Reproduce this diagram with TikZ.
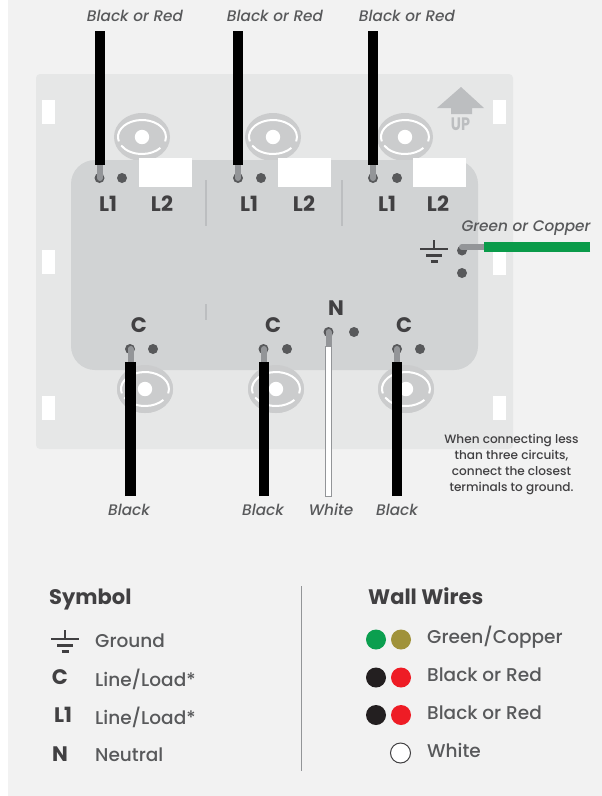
\documentclass[tikz,border=0pt]{standalone}
\usepackage{fontspec}
\setmainfont{Poppins}
\newfontfamily\mediumfont[ItalicFont={Poppins Medium Italic}]{Poppins Medium}
\usetikzlibrary{positioning}
\definecolor{pagegray}{HTML}{F2F2F2}
\definecolor{plategray}{HTML}{E6E7E7}
\definecolor{bodygray}{HTML}{D1D3D4}
\definecolor{eyegray}{HTML}{CBCCCD}
\definecolor{inkgray}{HTML}{414042}
\definecolor{textgray}{HTML}{58595B}
\definecolor{pingray}{HTML}{58595B}
\definecolor{stubgray}{HTML}{939598}
\definecolor{upgray}{HTML}{BCBEC0}
\definecolor{wiregreen}{HTML}{0A9B4A}
\definecolor{dotgreen}{HTML}{0B9F4F}
\definecolor{dotcopper}{HTML}{A0923A}
\definecolor{dotblack}{HTML}{231F20}
\definecolor{dotred}{HTML}{EE1C25}
\tikzset{pin/.style = {fill=pingray, circle, inner sep = 0, minimum size = 10}}
\tikzset{wire/.style = {line width = 10.5, black}}
\tikzset{stub/.style = {line width = 6, stubgray, line cap = round}}
\tikzset{whitewire/.style = {draw=stubgray, fill=white, line width = 0.8}}
\tikzset{wirelabel/.style = {font=\mediumfont\itshape\fontsize{15.3}{15.3}\selectfont, text=textgray, inner sep = 0}}
\tikzset{termlabel/.style = {font=\bfseries\fontsize{21}{21}\selectfont, text=inkgray, inner sep = 0}}
\tikzset{headlabel/.style = {font=\bfseries\fontsize{21}{21}\selectfont, text=inkgray, inner sep = 0, anchor=base west}}
\tikzset{keylabel/.style = {font=\mediumfont\fontsize{18.5}{18.5}\selectfont, text=textgray, inner sep = 0, anchor=west}}
\tikzset{keydot/.style = {circle, inner sep = 0, minimum size = 20}}
\newcommand{\screweye}[1]{
  \fill [eyegray] (#1) ellipse (28 and 24);
  \draw [white, line width = 2] (#1) ++(165:24 and 17) arc (165:375:24 and 17);
  \draw [white, line width = 2] (#1) ++(150:24 and 17) arc (150:40:24 and 17);
  \fill [white] (#1) circle (7.2);
}
\newcommand{\groundsym}[1]{
  \draw [inkgray, line width = 2] (#1) ++(0, -9) -- ++(0, 9);
  \draw [inkgray, line width = 2.5] (#1) ++(-14, 0) -- ++(28, 0);
  \draw [inkgray, line width = 2.5] (#1) ++(-8, 6.5) -- ++(16, 0);
  \draw [inkgray, line width = 3] (#1) ++(-3.5, 12.5) -- ++(7, 0);
}
\begin{document}
\begin{tikzpicture}[x=1pt, y=-1pt]
  \useasboundingbox (0, 0) rectangle (602, 796);
  \fill [white] (0, 0) rectangle (602, 796);
  \fill [pagegray] (8, 0) rectangle (602, 796);
  % plate
  \fill [plategray, rounded corners = 4] (36, 74) rectangle (513, 449);
  \foreach \x/\y in {42/100, 42/250, 42/396, 493/100, 493/251, 493/396} {
    \fill [white] (\x, \y) rectangle ++(13, 24);
  }
  % screws
  \foreach \x/\y in {142/137, 273/137, 405/137, 145/389, 276/389, 406/389} {
    \screweye{\x, \y}
  }
  % body
  \fill [bodygray, rounded corners = 24] (71, 160) rectangle (478, 370);
  \begin{scope}
    \clip (100, 360) rectangle (450, 420);
    \foreach \x/\y in {145/389, 276/389, 406/389} {
      \screweye{\x, \y}
    }
  \end{scope}
  \foreach \x in {139, 278, 413} {
    \fill [white] (\x, 158) rectangle ++(53, 29);
  }
  \foreach \x/\y/\h in {206/180/46, 342/180/46, 206/304/16} {
    \draw [upgray, line width = 1.5] (\x, \y) -- ++(0, \h);
  }
  % up arrow
  \fill [upgray] (461, 87) -- (484, 108) -- (472, 108) -- (472, 114) -- (451, 114) -- (451, 108) -- (437, 108) -- cycle;
  \node (uplabel) at (460.5, 124) [font=\bfseries\fontsize{18}{18}\selectfont, text=upgray, inner sep = 0, xscale=0.8] {UP};
  % pins
  \foreach \x/\y/\name in {99.5/178/a, 122/178/b, 238/178/c, 261/178/d, 373/178/e, 397/178/f,
                           462/250.5/g, 462/273/h, 130/349/i, 153/349/j, 263.5/349/k, 287/349/l,
                           328.5/332/m, 354/332/n, 397/349/o, 420/349/p} {
    \node (pin\name) at (\x, \y) [pin] {};
  }
  % wires
  \foreach \name/\x/\ystart/\yend in {a/100/31/165, c/238/31/165, e/373/31/165,
                                      i/130.5/496/362, k/264/496/362, o/397/496/362} {
    \coordinate (far\name) at (\x, \ystart);
    \coordinate (tip\name) at (\x, \yend);
    \draw [stub] (pin\name.center -| tip\name) -- (tip\name);
    \draw [wire] (far\name) -- (tip\name);
  }
  \coordinate (farg) at (590, 247);
  \coordinate (tipg) at (484, 247);
  \draw [stub] (ping.center |- tipg) -- (tipg);
  \draw [wire, wiregreen] (farg) -- (tipg);
  \coordinate (tipm) at (328.5, 347);
  \draw [stub] (pinm.center) -- (tipm);
  \draw [whitewire] (325.3, 346.5) rectangle (331.7, 496);
  % terminal labels
  \foreach \x/\y/\t in {108/204/L1, 162/204/L2, 249/204/L1, 304/204/L2, 387/204/L1, 438/204/L2,
                        139/325/C, 273/325/C, 336/308/N, 404/325/C} {
    \node at (\x, \y) [termlabel] {\t};
  }
  \groundsym{434, 249}
  % wire labels
  \foreach \x/\t in {135/Black or Red, 275/Black or Red, 407/Black or Red} {
    \node at (\x, 16) [wirelabel] {\t};
  }
  \foreach \x/\t in {129/Black, 263/Black, 331/White, 397/Black} {
    \node at (\x, 510) [wirelabel] {\t};
  }
  \node (groundwire) at (526, 228.5) [wirelabel] {Green or Copper};
  \node (note) at (511.5, 464) [font=\mediumfont\fontsize{12.1}{16}\selectfont, text=inkgray, inner sep = 0, align=center] {When connecting less\\than three circuits,\\connect the closest\\terminals to ground.};
  % legend
  \node (symbolhead) at (49, 604) [headlabel] {Symbol};
  \node (wallhead) at (368, 604) [headlabel] {Wall Wires};
  \draw [stubgray, line width = 1] (301.5, 586) -- (301.5, 771);
  \groundsym{65, 639}
  \node at (60, 677) [termlabel] {C};
  \node at (63, 715) [termlabel] {L1};
  \node at (60, 754) [termlabel] {N};
  \node at (95, 641) [keylabel] {Ground};
  \node at (95, 679) [keylabel] {Line/Load*};
  \node at (95, 717) [keylabel] {Line/Load*};
  \node at (95, 755) [keylabel] {Neutral};
  \node at (376, 639.5) [keydot, fill=dotgreen] {};
  \node at (401, 639.5) [keydot, fill=dotcopper] {};
  \node at (376, 677.5) [keydot, fill=dotblack] {};
  \node at (401, 677.5) [keydot, fill=dotred] {};
  \node at (376, 715) [keydot, fill=dotblack] {};
  \node at (401, 715) [keydot, fill=dotred] {};
  \node at (400.5, 753) [keydot, draw=inkgray, fill=white, line width = 1] {};
  \node at (427, 637) [keylabel] {Green/Copper};
  \node at (427, 675) [keylabel] {Black or Red};
  \node at (427, 713) [keylabel] {Black or Red};
  \node at (427, 750) [keylabel] {White};
\end{tikzpicture}
\end{document}
